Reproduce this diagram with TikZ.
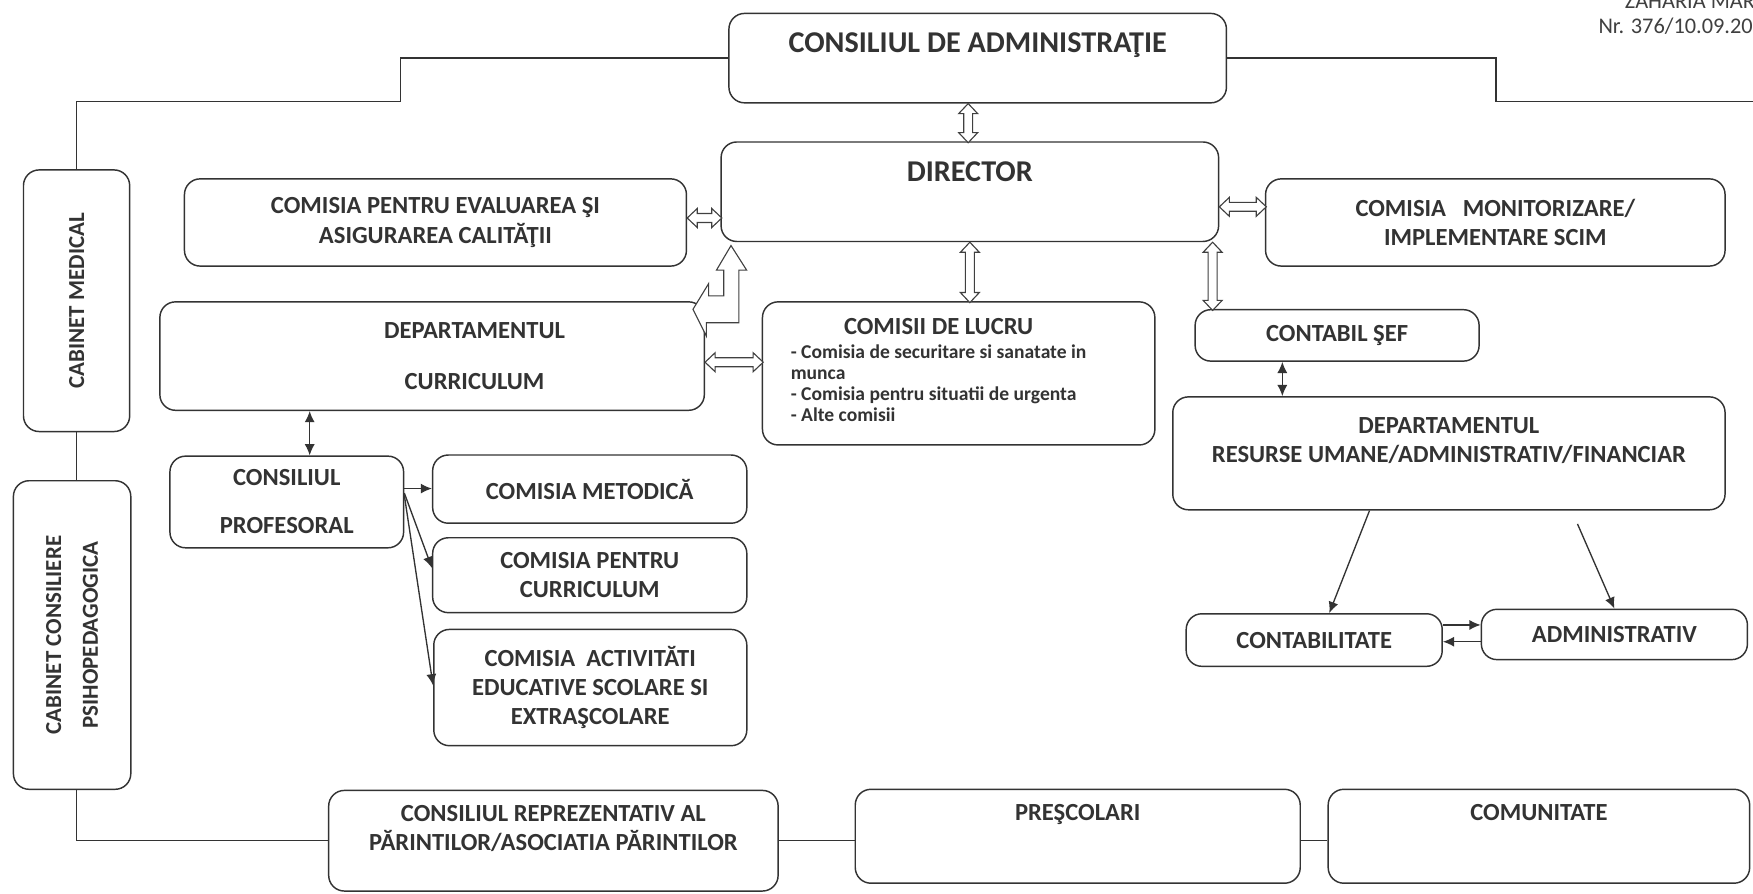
\documentclass[tikz,border=0pt]{standalone}
\usepackage{fontspec}
\setmainfont{Carlito}
\usetikzlibrary{arrows.meta,calc}

\tikzset{
  box/.style={draw=black!80, line width=1.3pt, rounded corners=14pt, fill=white,
    align=center, inner sep=3pt, text=black!80,
    font=\bfseries\fontsize{22}{26}\selectfont},
  big/.style={font=\bfseries\fontsize{27}{32}\selectfont},
  side/.style={box, rotate=90, font=\bfseries\fontsize{20.5}{24}\selectfont},
  note/.style={inner sep=0pt, text=black!75, font=\fontsize{20}{24}\selectfont},
  link/.style={draw=black!80, line width=1.2pt},
  hollow/.style={draw=black!75, line width=1pt, fill=white, line join=miter},
  pics/dbl/.style={code={
    \draw[hollow] (0,0) -- (9,8.5) -- (9,4) -- (#1-9,4) -- (#1-9,8.5) -- (#1,0)
      -- (#1-9,-8.5) -- (#1-9,-4) -- (9,-4) -- (9,-8.5) -- cycle;}},
}

\begin{document}
\begin{tikzpicture}[x=1pt, y=-1pt, >={Latex[length=10pt,width=9pt]}]
\useasboundingbox (0,0) rectangle (1568,799);
\clip (0,0) rectangle (1568,799);
\fill[white] (0,0) rectangle (1568,799);

\node[note, anchor=base east] (zah) at (1570,8) {ZAHARIA MAR};
\node[note, anchor=base east] (nr) at (1568,30) {Nr. 376/10.09.20};

\node[box, big, minimum width=445, minimum height=80] (ca) at (874.5,52) {CONSILIUL DE ADMINISTRAŢIE\\[-4pt]\mbox{}};
\node[box, big, minimum width=445, minimum height=89] (dir) at (867.5,171.5) {DIRECTOR\\[4pt]\mbox{}};
\node[box, minimum width=449, minimum height=78] (ceac) at (389.5,199) {COMISIA PENTRU EVALUAREA ŞI\\ASIGURAREA CALITĂŢII};
\node[box, minimum width=411, minimum height=78] (scim) at (1337.5,199) {COMISIA~~~MONITORIZARE/\\IMPLEMENTARE SCIM};
\node[box, minimum width=487, minimum height=97] (dcur) at (386.5,318.5) {\hspace*{76pt}DEPARTAMENTUL\\[19pt]\hspace*{76pt}CURRICULUM};
\node[box, minimum width=351, minimum height=128] (lucru) at (857.5,334) {\fontsize{17.5}{19}\selectfont
  \begin{tabular}{@{}l@{\hspace{36pt}}}
  \multicolumn{1}{@{}c@{\hspace{36pt}}}{\fontsize{22}{26}\selectfont COMISII DE LUCRU}\\[2pt]
  - Comisia de securitare si sanatate in\\
  munca\\
  - Comisia pentru situatii de urgenta\\
  - Alte comisii
  \end{tabular}};
\node[box, minimum width=254, minimum height=46] (csef) at (1196,300) {CONTABIL ŞEF};
\node[box, minimum width=494, minimum height=101] (drua) at (1296,405.5) {DEPARTAMENTUL\\RESURSE UMANE/ADMINISTRATIV/FINANCIAR\\[-2pt]\mbox{}};
\node[box, minimum width=229, minimum height=47] (contab) at (1175.5,572.5) {CONTABILITATE};
\node[box, minimum width=238, minimum height=45] (admin) at (1444,567.5) {ADMINISTRATIV};

\node[box, minimum width=209, minimum height=82] (cp) at (256.5,449) {CONSILIUL\\[17pt]PROFESORAL};
\node[box, minimum width=281, minimum height=61] (cmet) at (527.5,437.5) {COMISIA METODICĂ};
\node[box, minimum width=281, minimum height=67] (ccur) at (527.5,514.5) {COMISIA PENTRU\\CURRICULUM};
\node[box, minimum width=280, minimum height=104] (cae) at (528,615) {COMISIA~~ACTIVITĂTI\\EDUCATIVE SCOLARE SI\\EXTRAŞCOLARE};

\node[side, minimum width=234, minimum height=95] (cmed) at (68.5,269) {CABINET MEDICAL};
\node[side, minimum width=276, minimum height=105] (ccp) at (64.5,568) {CABINET CONSILIERE\\[9pt]PSIHOPEDAGOGICA};

\node[box, minimum width=402, minimum height=90] (crp) at (495,752) {CONSILIUL REPREZENTATIV AL\\PĂRINTILOR/ASOCIATIA PĂRINTILOR\\[-3pt]\mbox{}};
\node[box, minimum width=398, minimum height=84] (presc) at (964,748) {PREŞCOLARI\\[16pt]\mbox{}};
\node[box, minimum width=377, minimum height=84] (comun) at (1376.5,748) {COMUNITATE\\[16pt]\mbox{}};

% frame lines (side nodes are rotated: east = top, west = bottom)
\draw[link] (ca.west) -| (358,91) -| (cmed.east);
\draw[link] (ca.east) -| (1338,91) -- (1570,91);
\draw[link] (cmed.west) -- (cmed.west |- ccp.east);
\draw[link] (ccp.west -| cmed.west) |- (crp.west);
\draw[link] (crp.east) -- (crp.east -| presc.west);
\draw[link] (presc.east |- crp.east) -- (crp.east -| comun.west);

% hollow arrows
\pic[rotate=-90] at ([xshift=-8.5pt]ca.south) {dbl=35};
\pic[rotate=-90] at (dir.south) {dbl=54};
\pic[rotate=-90] at ([xshift=-6pt]dir.south east) {dbl=61};
\pic at ([yshift=4pt]ceac.east) {dbl=31};
\pic at ([yshift=-13.5pt]dir.east) {dbl=42};
\pic at ([yshift=-5.5pt]dcur.east) {dbl=52};
\draw[hollow] ([shift={(9.5,3)}]dir.south west) -- ++(14,22) -- ++(-7,0) -- ++(0,47)
  -- ++(-29,0) -- ++(0,12) -- ++(-12,-24) -- ++(14,-23) -- ++(0,11) -- ++(13.5,0)
  -- ++(0,-23) -- ++(-6.5,0) -- cycle;

% thin arrows
\draw[link,<->] ([xshift=20.5pt]cp.north) -- ([xshift=20.5pt]cp.north |- dcur.south);
\draw[link,<->] ([xshift=-49pt]csef.south) -- ([xshift=-49pt]csef.south |- drua.north);
\draw[link,->] ([yshift=12pt]cp.east) -- ([yshift=12pt]cp.east -| cmet.west);
\draw[link,->] ([yshift=8pt]cp.east) -- ([yshift=6.5pt]ccur.west);
\draw[link,->] ([yshift=6pt]cp.east) -- ([yshift=2pt]cae.west);
\draw[link,->] ([xshift=-71pt]drua.south) -- ([xshift=13.5pt]contab.north);
\draw[link,->] ([xshift=115pt,yshift=-12pt]drua.south) -- (admin.north);
\draw[link,->] ([yshift=13.5pt]contab.east) -- ([yshift=13.5pt]contab.east -| admin.west);
\draw[link,->] ([yshift=-1.5pt]contab.east -| admin.west) -- ([yshift=-1.5pt]contab.east);
\end{tikzpicture}
\end{document}
